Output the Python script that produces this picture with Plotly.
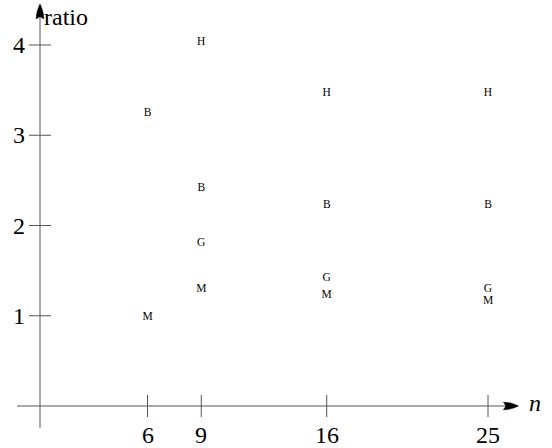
import plotly.graph_objects as go

# ---- data ----
n_ticks = [6, 9, 16, 25]
ratio_ticks = [1, 2, 3, 4]

H_n = [9, 16, 25]
H_ratio = [4.03, 3.47, 3.47]
B_n = [6, 9, 16, 25]
B_ratio = [3.24, 2.41, 2.23, 2.23]
G_n = [9, 16, 25]
G_ratio = [1.80, 1.42, 1.30]
M_n = [6, 9, 16, 25]
M_ratio = [0.99, 1.30, 1.23, 1.16]

series = [("H", H_n, H_ratio), ("B", B_n, B_ratio), ("G", G_n, G_ratio), ("M", M_n, M_ratio)]

FONT = "Liberation Serif, Times New Roman, serif"
AX = "#555555"

fig = go.Figure()
for lab, xs, ys in series:
    fig.add_trace(go.Scatter(x=xs, y=ys, mode="text", text=[lab] * len(xs),
                             textposition="middle center",
                             textfont=dict(family=FONT, size=11.5, color="black"),
                             showlegend=False, cliponaxis=False))

shapes = []
annotations = []
x_tail, x_tip = -1.28, 26.7
y_tail, y_tip = -0.24, 4.455
head = "M0,0 C-4,-2 -10,-4 -15,-3.8 L-12.5,0 L-15,3.8 C-10,4 -4,2 0,0 Z"
head_up = "M0,0 C-2,-4 -4,-10 -3.8,-15 L0,-12.5 L3.8,-15 C4,-10 2,-4 0,0 Z"
# axis lines
shapes.append(dict(type="line", x0=x_tail, x1=x_tip - 0.5, y0=0, y1=0, line=dict(color=AX, width=1)))
shapes.append(dict(type="line", x0=0, x1=0, y0=y_tail, y1=y_tip - 0.1, line=dict(color=AX, width=1)))
# arrowheads
shapes.append(dict(type="path", xsizemode="pixel", ysizemode="pixel", xanchor=x_tip, yanchor=0,
                   path=head, fillcolor="black", line=dict(color="black", width=0.5)))
shapes.append(dict(type="path", xsizemode="pixel", ysizemode="pixel", xanchor=0, yanchor=y_tip,
                   path=head_up, fillcolor="black", line=dict(color="black", width=0.5)))
# ticks
for t in n_ticks:
    shapes.append(dict(type="line", xref="x", yref="y", ysizemode="pixel", yanchor=0,
                       x0=t, x1=t, y0=-11, y1=11, line=dict(color=AX, width=1)))
    annotations.append(dict(x=t, y=0, text=str(t), showarrow=False, yanchor="middle",
                            yshift=-29, font=dict(family=FONT, size=24, color="black")))
for t in ratio_ticks:
    shapes.append(dict(type="line", xsizemode="pixel", xanchor=0,
                       x0=-11, x1=11, y0=t, y1=t, line=dict(color=AX, width=1)))
    annotations.append(dict(x=0, y=t, text=str(t), showarrow=False, xanchor="right",
                            xshift=-13, font=dict(family=FONT, size=24, color="black")))

annotations.append(dict(x=0, y=4.31, text="ratio", showarrow=False, xanchor="left", xshift=2,
                        font=dict(family=FONT, size=24, color="black")))
annotations.append(dict(x=x_tip, y=0, text="<i>n</i>", showarrow=False, xanchor="left", xshift=9,
                        yshift=3, font=dict(family=FONT, size=24, color="black")))

fig.update_layout(
    width=552, height=448,
    margin=dict(l=0, r=0, t=0, b=0),
    paper_bgcolor="white", plot_bgcolor="white",
    xaxis=dict(range=[-40 / 17.92, 512 / 17.92], visible=False),
    yaxis=dict(range=[-42 / 90.25, 406 / 90.25], visible=False),
    shapes=shapes, annotations=annotations,
    showlegend=False,
)
fig.write_html("out.html")
